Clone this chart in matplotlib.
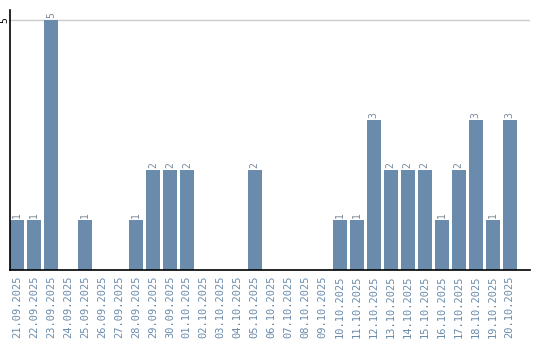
import matplotlib
matplotlib.use("Agg")
import matplotlib.pyplot as plt
from matplotlib.transforms import blended_transform_factory

dates = ["21.09.2025","22.09.2025","23.09.2025","24.09.2025","25.09.2025","26.09.2025",
         "27.09.2025","28.09.2025","29.09.2025","30.09.2025","01.10.2025","02.10.2025",
         "03.10.2025","04.10.2025","05.10.2025","06.10.2025","07.10.2025","08.10.2025",
         "09.10.2025","10.10.2025","11.10.2025","12.10.2025","13.10.2025","14.10.2025",
         "15.10.2025","16.10.2025","17.10.2025","18.10.2025","19.10.2025","20.10.2025"]
values = [1,1,5,0,1,0,0,1,2,2,2,0,0,0,2,0,0,0,0,1,1,3,2,2,2,1,2,3,1,3]
y_ticks = [5]

bar_color = "#6a8bab"
text_color = "#6a8bab"

fig = plt.figure(figsize=(5.4, 3.4), dpi=100)
ax = fig.add_axes([10/540, 1 - 270/340, 520/540, 260/340])
x = list(range(len(dates)))
bars = ax.bar(x, values, width=0.82, color=bar_color, zorder=2)
for xi, v in zip(x, values):
    if v > 0:
        ax.text(xi, v + 0.04, str(v), rotation=90, ha="center", va="bottom",
                fontsize=7, color="#7a8a9a", family="DejaVu Sans Mono")

ax.set_xlim(-0.41, 30.2)
ax.set_ylim(0, 5.2)
ax.set_yticks(y_ticks)
ax.set_yticklabels([""] * len(y_ticks))
ax.tick_params(axis="y", length=0)
trans = blended_transform_factory(ax.transAxes, ax.transData)
for t in y_ticks:
    ax.text(-6/520, t, str(t), transform=trans, rotation=90, ha="center",
            va="center", fontsize=7, family="DejaVu Sans Mono", color="#000000")
    ax.axhline(t, color="#cccccc", linewidth=1, zorder=1)
ax.set_xticks(x)
ax.set_xticklabels(dates, rotation=90, fontsize=7.5, family="DejaVu Sans Mono",
                   color=text_color)
ax.tick_params(axis="x", length=0, pad=4)
for s in ["top", "right"]:
    ax.spines[s].set_visible(False)
ax.spines["left"].set_linewidth(1.2)
ax.spines["bottom"].set_linewidth(1.2)
fig.savefig("out.png", dpi=100)
